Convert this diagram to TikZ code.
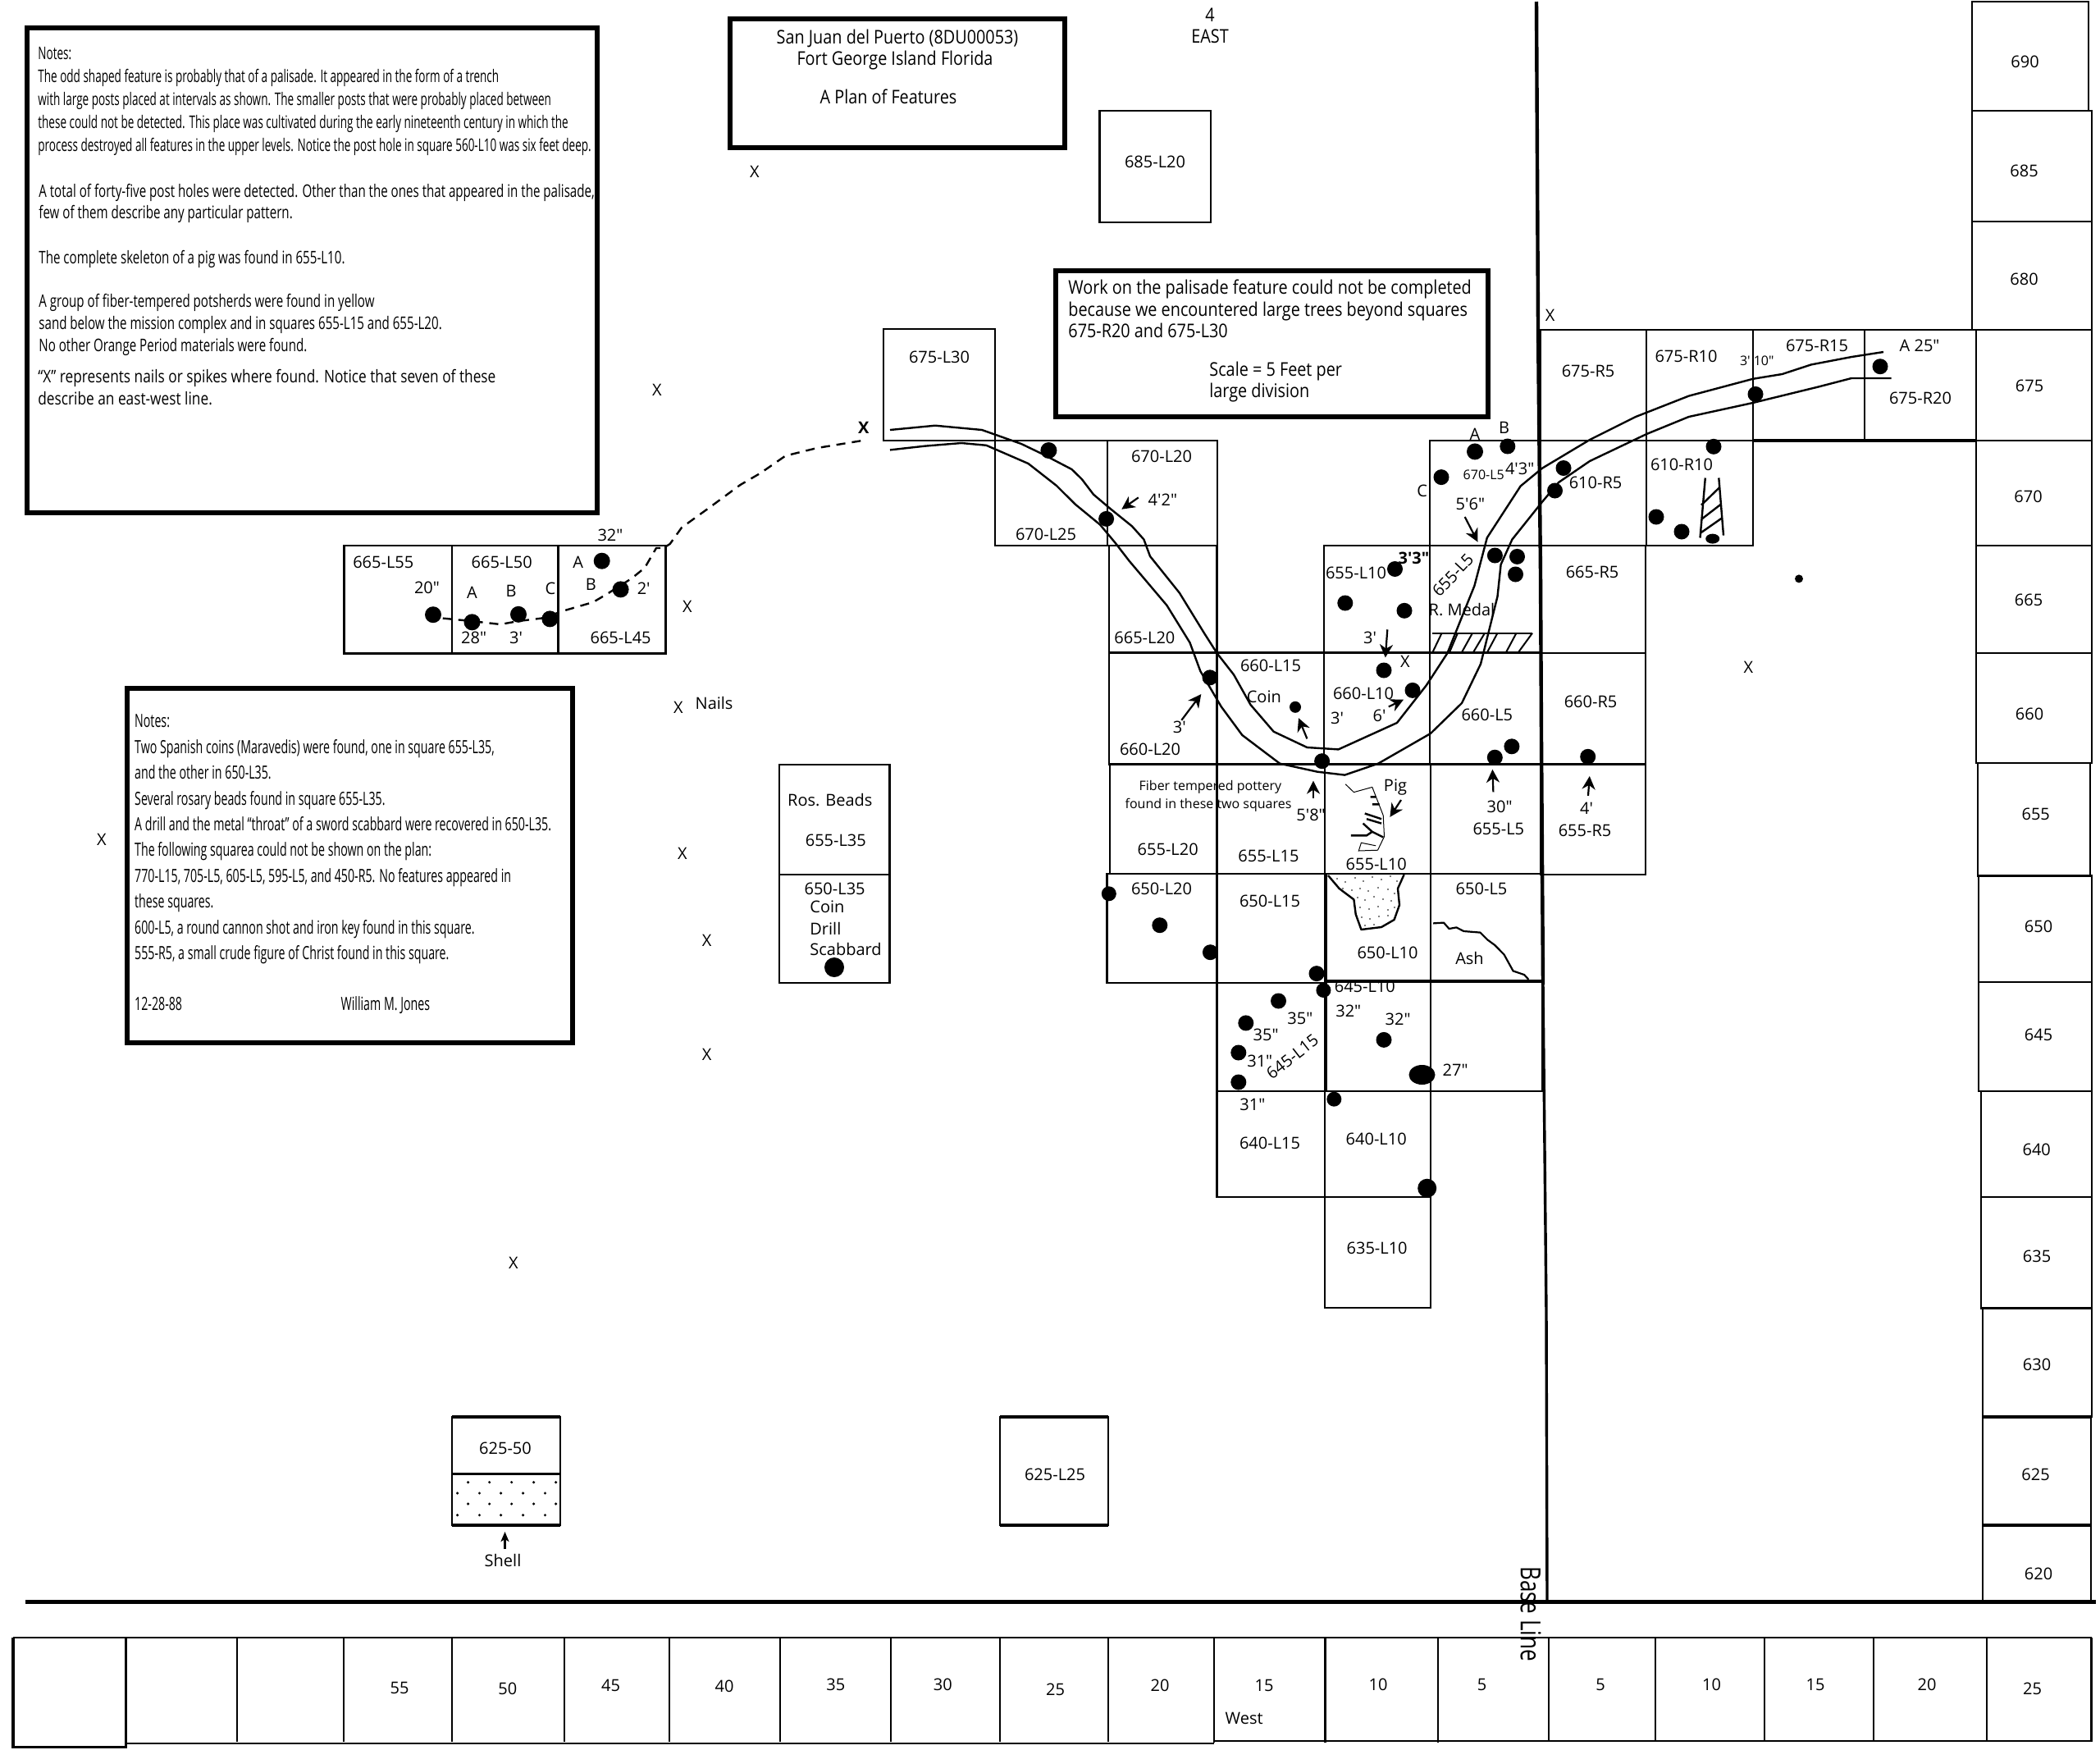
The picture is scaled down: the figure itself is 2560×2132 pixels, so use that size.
\documentclass[tikz,border=0pt]{standalone}
\usepackage{fontspec}
\setmainfont{Open Sans}
\newfontfamily\condA[FakeStretch=0.638]{Open Sans}
\newfontfamily\condE[FakeStretch=0.713]{Open Sans}
\newfontfamily\condD[FakeStretch=0.64]{Open Sans}
\newfontfamily\condB[FakeStretch=0.815]{Open Sans}
\newfontfamily\condC[FakeStretch=0.862]{Open Sans}
\usetikzlibrary{arrows.meta}
\newcount\nn
\tikzset{
  lab/.style={inner sep=0pt,anchor=center,yshift=-0.7pt,font=\fontsize{10}{12}\selectfont},
  small/.style={inner sep=0pt,anchor=center,font=\fontsize{8}{10}\selectfont},
  noteA/.style={inner sep=0pt,anchor=base west,font=\condA\fontsize{10.6}{12}\selectfont},
  noteE/.style={inner sep=0pt,anchor=base west,font=\condE\fontsize{10.6}{12}\selectfont},
  noteD/.style={inner sep=0pt,anchor=base west,font=\condD\fontsize{11.1}{13}\selectfont},
  noteB/.style={inner sep=0pt,anchor=base west,font=\condB\fontsize{10.6}{12}\selectfont},
  noteC/.style={inner sep=0pt,anchor=base west,font=\condC\fontsize{11.5}{13}\selectfont},
  titleC/.style={inner sep=0pt,anchor=base,font=\condC\fontsize{11.5}{13}\selectfont},
  grid/.style={draw=black,line width=1.15pt,line join=miter},
  heavy/.style={draw=black,line width=1.7pt},
  column/.style={draw=black,line width=1.4pt},
  frame/.style={draw=black,line width=3pt},
  trench/.style={draw=black,line width=1.2pt,line join=round},
  thin line/.style={draw=black,line width=0.5pt},
  arr/.style={draw=black,line width=1.1pt,-{Stealth[length=8pt,width=8pt,inset=2.5pt]}},
}
\newcommand{\mk}[3]{\global\advance\nn by 1 \node[lab] (t\the\nn) at (#1,#2) {#3};}
\newcommand{\sm}[3]{\global\advance\nn by 1 \node[small] (t\the\nn) at (#1,#2) {#3};}
\newcommand{\nA}[3]{\global\advance\nn by 1 \node[noteA] (t\the\nn) at (#1,#2) {#3};}
\newcommand{\nE}[3]{\global\advance\nn by 1 \node[noteE] (t\the\nn) at (#1,#2) {#3};}
\newcommand{\nD}[3]{\global\advance\nn by 1 \node[noteD] (t\the\nn) at (#1,#2) {#3};}
\newcommand{\nB}[3]{\global\advance\nn by 1 \node[noteB] (t\the\nn) at (#1,#2) {#3};}
\newcommand{\nC}[3]{\global\advance\nn by 1 \node[noteC] (t\the\nn) at (#1,#2) {#3};}
\newcommand{\tC}[3]{\global\advance\nn by 1 \node[titleC] (t\the\nn) at (#1,#2) {#3};}
\newcommand{\sq}[4]{\draw[grid] (#1,#2) rectangle (#3,#4);}
\newcommand{\hq}[4]{\draw[column] (#1,#2) rectangle (#3,#4);}
\begin{document}
\begin{tikzpicture}[x=0.5pt,y=-0.5pt]
\useasboundingbox (0,0) rectangle (2560,2132);
\fill[white] (0,0) rectangle (2560,2132);

% framed notes
\draw[frame] (33,34) rectangle (728,624.5);
\draw[frame] (154.5,838.5) rectangle (698,1271);
\draw[frame] (889.5,22.5) rectangle (1298,180);
\draw[frame] (1286.5,330) rectangle (1813.5,508);

% isolated squares
\hq{1340.5}{135}{1476}{271}
\sq{1077}{401}{1213}{537}
\sq{1213}{537}{1350}{665}
\sq{1350}{537}{1484}{665}
\sq{1352}{665}{1483.5}{795.5}
\sq{1352}{795.5}{1483.5}{931.5}
\sq{1483.5}{795.5}{1614}{931.5}
\sq{1614}{665}{1743}{795.5}
\sq{1614}{795.5}{1743}{931.5}
\sq{1743}{537}{1878}{665}
\sq{1743}{665}{1878}{795.5}
\sq{1743}{795.5}{1878}{931.5}
\sq{1878}{402}{2007}{537}
\sq{2007}{402}{2137}{537}
\sq{2137}{402}{2273}{537}
\sq{2273}{402}{2409}{537}
\sq{1878}{537}{2007}{665}
\sq{2007}{537}{2137}{665}
\sq{1878}{665}{2006}{796}
\sq{1878}{796}{2006}{931.5}
\sq{1878}{931.5}{2006}{1066}
\draw[heavy] (1352,795.5) -- (1878,795.5) (1352,931.5) -- (2006,931.5) (2137,537) -- (2409,537);
% rows below
\sq{1353}{931.5}{1483.5}{1065}
\sq{1483.5}{931.5}{1615}{1065}
\sq{1615}{931.5}{1744}{1065}
\sq{1744}{931.5}{1880}{1065}
\sq{1349.5}{1065}{1483.5}{1198}
\sq{1483.5}{1065}{1616}{1198}
\sq{1616}{1065}{1744}{1196}
\sq{1744}{1065}{1880}{1196}
\sq{1483.5}{1198}{1616}{1330}
\sq{1616}{1196}{1744}{1330}
\sq{1744}{1196}{1880}{1330}
\sq{1483.5}{1330}{1615}{1459}
\sq{1615}{1330}{1744}{1459}
\sq{1615}{1459}{1744}{1594}
\draw[heavy] (1616,1065) -- (1616,1330) (1616,1196) -- (1880,1196);
% western squares
\sq{419.5}{665}{551}{796.5}
\sq{551}{665}{680.5}{796.5}
\sq{680.5}{665}{811.5}{796.5}
\sq{950}{932}{1084.5}{1066}
\sq{950}{1066}{1084.5}{1198}
\draw[grid] (551,1727) rectangle (683,1796.5);
\draw[heavy] (551,1727) -- (683,1727) (551,1796.5) -- (683,1796.5) (551,1859) -- (683,1859);
\draw[grid] (551,1796.5) rectangle (683,1859);
\draw[grid] (1219,1727) rectangle (1351,1859);
\draw[heavy] (1219,1727) -- (1351,1727) (1219,1859) -- (1351,1859);
% shell stipple
\foreach \x in {570.6,596.7,623.7,650.6,677.6} \foreach \y in {1806.7,1833} \fill (\x,\y) circle[radius=1.7];
\foreach \x in {557.6,584.5,610.6,637.6,664.5} \foreach \y in {1820,1846.7} \fill (\x,\y) circle[radius=1.7];

% right hand column
\sq{2404}{2}{2546}{135}
\sq{2404}{135}{2550}{270}
\sq{2404}{270}{2550}{402}
\sq{2409}{402}{2550}{537}
\sq{2409}{537}{2550}{665}
\sq{2409}{665}{2550}{796}
\hq{2409}{796}{2550}{930}
\hq{2411}{930}{2548}{1067.5}
\hq{2412}{1067.5}{2550}{1197}
\hq{2412}{1197}{2550}{1330}
\hq{2415}{1330}{2550}{1459}
\hq{2415}{1459}{2550}{1594.5}
\hq{2417}{1594.5}{2550}{1727}
\sq{2417}{1727}{2549}{1859}
\sq{2417}{1859}{2549}{1952}
\draw[heavy] (2417,1727) -- (2549,1727) (2417,1859) -- (2549,1859);

% base lines
\draw[draw=black,line width=2.3pt] (31,1952.7) -- (2555,1952.7);
\draw[draw=black,line width=2.2pt] (1873,2) -- (1875,400) -- (1878,700) -- (1879,900) -- (1881,1200);
\draw[draw=black,line width=1.7pt] (1881,1200) -- (1885,1600) -- (1886,1952);

% bottom ruler
\draw[column] (16,1996) -- (2549.5,1996);
\draw[column] (153.5,2125) -- (1480,2125);
\draw[column] (1480,2122) -- (2549.5,2122);
\draw[draw=black,line width=1.7pt] (16,1996) -- (16,2129.5) -- (153.5,2129.5) -- (153.5,1996);
\foreach \x in {289,418.8,551,688,816.3,951,1085.7,1218.8,1351,1888,2018,2151,2284,2422,2549.4}
  \draw[grid] (\x,1996) -- (\x,2123);
\foreach \x in {1480,1615.5,1752.7}
  \draw[grid] (\x,1996) -- (\x,2124);

% trench walls
\draw[trench] (1085,524) -- (1140,518.7) -- (1197,524) -- (1245,541) -- (1270,553) -- (1306.5,572) -- (1318.8,584) -- (1333,602.7) -- (1353.5,620) -- (1380,641.4) -- (1394.4,657.5) -- (1402,678) -- (1437.8,722.6) -- (1468.4,772.4) -- (1483.7,796.3) -- (1504,822.3) -- (1524.5,859) -- (1552.6,891.7) -- (1593.4,911) -- (1631.6,913.4) -- (1703,881) -- (1738.8,835.3) -- (1764.3,796.3) -- (1797.4,714) -- (1812.8,655.4) -- (1853.6,592.5) -- (1880,570.7) -- (1938,536) -- (1994,508) -- (2058.7,482.6) -- (2136.8,461.8) -- (2172.5,456) -- (2208,444.4) -- (2257.3,435) -- (2296,429);
\draw[trench] (1085,548.4) -- (1127,543.7) -- (1172,540) -- (1202.4,542.8) -- (1253.5,565) -- (1288,592) -- (1310.6,614.5) -- (1341,639.5) -- (1359.6,661.7) -- (1376.5,683.6) -- (1422.4,737.8) -- (1450.5,783.3) -- (1463.3,818) -- (1488.8,861.4) -- (1514.3,896) -- (1560.2,930.7) -- (1606,940.7) -- (1639.3,944.6) -- (1680,930.7) -- (1743.9,894) -- (1782,857) -- (1805,809.3) -- (1825.5,727) -- (1829.6,688) -- (1843.4,657.5) -- (1880,611.7) -- (1900,588) -- (1938,562) -- (2007.3,529) -- (2058.7,508) -- (2136.8,491) -- (2217,471.4) -- (2257,461) -- (2305.5,461);

% dashed extension of the palisade
\draw[draw=black,line width=1.2pt,dash pattern=on 5.5pt off 4pt,line join=round]
 (539.8,753.6) -- (575,757) -- (610,761) -- (632,757) -- (660,753.6) -- (690,743.6) -- (723,734) -- (740,724) -- (770,705) -- (786,692) -- (800,668) -- (808.6,668) -- (816.7,663) -- (831,643) -- (865.7,618) -- (902.4,591) -- (927,576.7) -- (957.6,555.5) -- (996.3,546) -- (1053.5,536.6);

% hatching
\draw[draw=black,line width=1pt] (1746.4,771.6) -- (1868,771.6) (1746.4,795) -- (1868,795);
\foreach \a/\b in {1757.6/1746.4,1777/1767,1795/1782,1810/1796,1825.5/1813,1848.5/1836,1868/1851}
  \draw[draw=black,line width=1pt] (\a,771.6) -- (\b,795);
\draw[draw=black,line width=1.2pt] (2078.8,582.5) -- (2072.5,655.5) (2095.3,582.5) -- (2101,652.6) (2074,615.6) -- (2096.6,593.7) (2074,633) -- (2098,614.5) (2072.5,650) -- (2099.7,631);

% ash line
\draw[draw=black,line width=1.1pt,line join=round] (1747,1125.4) -- (1760,1124.6) -- (1766.5,1132) -- (1775.4,1130.4) -- (1784.4,1135) -- (1804.5,1136.6) -- (1813.4,1145.5) -- (1822.3,1152) -- (1833.5,1163.4) -- (1844.6,1183.5) -- (1858,1188) -- (1863.4,1193.8);

% stippled pit
\draw[draw=black,line width=1.2pt,line join=round] (1619,1067) -- (1632.6,1083) -- (1650.4,1096.4) -- (1652.7,1114.3) -- (1659.4,1133) -- (1684,1130) -- (1699.6,1121) -- (1706,1103) -- (1704,1083) -- (1711.6,1066);
\foreach \x/\y in {1630/1071,1640/1075,1652/1070,1662/1074,1673/1069,1684/1072,1695/1068,1703/1074,
  1637/1083,1648/1085,1658/1083,1668/1086,1680/1082,1692/1084,1700/1089,
  1655/1094,1664/1097,1675/1093,1686/1096,1696/1098,
  1658/1106,1669/1108,1680/1105,1692/1109,1700/1106,
  1660/1118,1670/1120,1681/1117,1692/1116,1664/1128,1675/1127}
  \fill (\x,\y) circle[radius=0.9];

% pig skeleton
\draw[thin line] (1640.2,955.8) -- (1650.4,965.6) -- (1672.8,959.4) -- (1686.2,993.8) -- (1687.5,1019.6) -- (1679.5,1036.2) -- (1656.3,1037) -- (1659.4,1027.2) -- (1677.2,1030.8);
\draw[draw=black,line width=1.2pt] (1646.9,1018.3) -- (1666,1018.3) -- (1672.8,1013.8) -- (1686.2,1020.5)
  (1661.6,1003.6) -- (1672.8,1013.8) (1666,998.2) -- (1684,1003.6) (1663.8,991.5) -- (1684,998.2) (1670.5,971.4) -- (1677.2,971.4) (1672.8,980.4) -- (1681.7,980.4);

% post holes
\foreach \x/\y/\r in {
 1278.4/549/10, 1348.6/632.4/9.5, 1798/550.4/10, 1837.8/544/9.5, 1757/581.6/9.5, 1906/570.5/9.5, 1895.5/598/9.5,
 1822.4/677/9.5, 1849.5/678.4/9.5, 1847.5/700/9.5, 1700.5/693.5/9.5, 1639.8/735/9.5, 1712/744.3/9.5, 1687/817/9.5,
 1722/841.4/9.5, 1475/825.8/9.5, 1579/861.8/7, 1611.6/927.7/9.5, 1822.3/923.2/9.5, 1842.9/909.8/9.5, 1935.7/922.3/9.5,
 2140/480.4/9.5, 2292/446.7/9.5, 2089/544.3/9.5, 2019/630/9.5, 2050/648/9.5, 2193/705.4/5,
 1351.8/1089.3/9, 1413.8/1127.7/9.5, 1475.4/1160.7/9.5, 1605/1186.6/9.5, 1613.4/1207/9, 1558.5/1220/9.5, 1518.8/1246.9/9.5,
 1509.8/1283/9.5, 1509.8/1319/9.5, 1687/1267.4/9.5, 1626.3/1339.7/9, 1739.7/1448.2/11.5, 1017/1179/12,
 528/749.2/10, 575.5/758.3/10, 632/748.8/10, 670.4/754.4/10, 733.7/683.7/10, 756.6/718.4/10}
  \fill (\x,\y) circle[radius=\r];
\fill (1733.5,1310) ellipse[x radius=16,y radius=12];
\fill (2087.7,656.6) ellipse[x radius=8.5,y radius=6];

% arrows
\draw[arr] (1387.8,606.4) -- (1367.3,620.7);
\draw[arr] (1785.7,630) -- (1801.5,660.6);
\draw[arr] (1691.3,767.3) -- (1688.8,801.5);
\draw[arr] (1593.4,900.4) -- (1583,875.2);
\draw[arr] (1692.8,861.4) -- (1711,852.7);
\draw[arr] (1440.3,877.8) -- (1464.3,846);
\draw[arr] (1601,972.8) -- (1601,951.6);
\draw[arr] (1708,975) -- (1694.4,995.8);
\draw[arr] (1820.4,965.4) -- (1819.4,937.8);
\draw[arr] (1936,969.8) -- (1937.8,946);
\draw[draw=black,line width=1.1pt,-{Stealth[length=6pt,width=5pt,inset=1.5pt]}] (615.5,1888) -- (615.5,1867);

% notes text
\nA{46}{72}{Notes:}
\nA{46}{100}{The odd shaped feature is probably that of a palisade. It appeared in the form of a trench}
\nA{46}{128}{with large posts placed at intervals as shown. The smaller posts that were probably placed between}
\nA{46}{156.5}{these could not be detected. This place was cultivated during the early nineteenth century in which the}
\nA{46}{184}{process destroyed all features in the upper levels. Notice the post hole in square 560-L10 was six feet deep.}
\nE{47}{240}{A total of forty-five post holes were detected. Other than the ones that appeared in the palisade,}
\nE{47}{266}{few of them describe any particular pattern.}
\nE{47}{321}{The complete skeleton of a pig was found in 655-L10.}
\nE{47}{374.5}{A group of fiber-tempered potsherds were found in yellow}
\nE{47}{401}{sand below the mission complex and in squares 655-L15 and 655-L20.}
\nE{47}{428}{No other Orange Period materials were found.}
\nB{46}{466}{“X” represents nails or spikes where found. Notice that seven of these}
\nB{46}{493}{describe an east-west line.}

\nD{163.8}{886.7}{Notes:}
\nD{163.8}{918}{Two Spanish coins (Maravedis) were found, one in square 655-L35,}
\nD{163.8}{949.6}{and the other in 650-L35.}
\nD{163.8}{981}{Several rosary beads found in square 655-L35.}
\nD{163.8}{1012}{A drill and the metal “throat” of a sword scabbard were recovered in 650-L35.}
\nD{163.8}{1043.7}{The following squarea could not be shown on the plan:}
\nD{163.8}{1075}{770-L15, 705-L5, 605-L5, 595-L5, and 450-R5. No features appeared in}
\nD{163.8}{1106.6}{these squares.}
\nD{163.8}{1138}{600-L5, a round cannon shot and iron key found in this square.}
\nD{163.8}{1169}{555-R5, a small crude figure of Christ found in this square.}
\nD{163.8}{1231.4}{12-28-88}
\nD{415.3}{1231.4}{William M. Jones}

\tC{1094}{53}{San Juan del Puerto (8DU00053)}
\tC{1091}{79}{Fort George Island Florida}
\tC{1083}{126}{A Plan of Features}
\tC{1475}{26}{4}
\tC{1475}{52.5}{EAST}

\nC{1302}{358}{Work on the palisade feature could not be completed}
\nC{1302}{385}{because we encountered large trees beyond squares}
\nC{1302}{411}{675-R20 and 675-L30}
\nC{1474}{458}{Scale = 5 Feet per}
\nC{1474}{484.6}{large division}

% labels of squares
\mk{1408}{196}{685-L20}
\mk{1145}{434}{675-L30}
\mk{1275}{650}{670-L25}
\mk{1416}{555}{670-L20}
\mk{1395.4}{776}{665-L20}
\mk{1402}{911.6}{660-L20}
\mk{1549}{810}{660-L15}
\mk{1653}{696.5}{655-L10}
\mk{1662}{844}{660-L10}
\sm{1808.7}{578.6}{670-L5}
\node[lab,rotate=47] (r1) at (1771,699.6) {655-L5};
\mk{1812.8}{870}{660-L5}
\mk{1945}{587}{610-R5}
\mk{1941}{695.7}{665-R5}
\mk{1939}{854}{660-R5}
\mk{1932}{1011}{655-R5}
\mk{1936}{451}{675-R5}
\mk{2055.5}{432.6}{675-R10}
\mk{2215}{420}{675-R15}
\mk{2341}{484}{675-R20}
\mk{2340}{420}{A 25″}
\sm{2141.7}{440}{3′ 10″}
\mk{2050}{564.5}{610-R10}
\mk{1423.7}{1033.5}{655-L20}
\mk{1546.4}{1041.5}{655-L15}
\mk{1677.7}{1052}{655-L10}
\mk{1826.8}{1008.5}{655-L5}
\sm{1475.4}{959}{Fiber tempered pottery}
\sm{1473}{981.7}{found in these two squares}
\mk{1598}{992.4}{5′8″}
\mk{1701}{958.5}{Pig}
\mk{1828}{981.7}{30″}
\mk{1934}{983.5}{4′}
\mk{1416}{1082}{650-L20}
\mk{1548}{1097}{650-L15}
\mk{1691.5}{1160}{650-L10}
\mk{1806}{1082}{650-L5}
\mk{1791.5}{1167}{Ash}
\mk{1548}{1392}{640-L15}
\mk{1677.7}{1386.6}{640-L10}
\mk{1678.6}{1519.6}{635-L10}
\mk{1663.8}{1201}{645-L10}
\node[lab,rotate=38] (r2) at (1575.4,1286.6) {645-L15};
\mk{1584.8}{1240}{35″}
\mk{1543}{1260}{35″}
\mk{1535.7}{1292}{31″}
\mk{1526.8}{1344.6}{31″}
\mk{1643.7}{1231}{32″}
\mk{1704}{1240.6}{32″}
\mk{1774}{1302.7}{27″}
\mk{1417.3}{607.7}{4′2″}
\mk{1852.6}{569.5}{4′3″}
\mk{1792.3}{612.9}{5′6″}
\node[lab,font=\bfseries\fontsize{10}{12}\selectfont] (b1) at (1723.5,679) {3′3″};
\mk{1782}{742}{R. Medal}
\mk{1670}{776}{3′}
\mk{1540.8}{848.3}{Coin}
\mk{1630}{874.4}{3′}
\mk{1681.6}{871.3}{6′}
\mk{1437.8}{885}{3′}
\mk{1733.7}{596.8}{C}
\mk{1798}{528.3}{A}
\mk{1833.7}{519.6}{B}
\mk{1712.8}{805}{X}
\mk{467.3}{683.7}{665-L55}
\mk{611.7}{683.7}{665-L50}
\mk{756.6}{776}{665-L45}
\mk{743.9}{651}{32″}
\mk{520.4}{715.4}{20″}
\mk{575.5}{720.6}{A}
\mk{623}{719}{B}
\mk{671}{716}{C}
\mk{704.6}{684}{A}
\mk{720.4}{711}{B}
\mk{784.7}{715.4}{2′}
\mk{577.6}{776}{28″}
\mk{629}{776}{3′}
\mk{1011.8}{974}{Ros. Beads}
\mk{1018.8}{1022.7}{655-L35}
\mk{1017.6}{1082}{650-L35}
\node[lab,anchor=west] (c1) at (987,1104) {Coin};
\node[lab,anchor=west] (c2) at (987,1130) {Drill};
\node[lab,anchor=west] (c3) at (987,1156) {Scabbard};
\mk{616}{1764}{625-50}
\mk{613}{1900.7}{Shell}
\mk{1286}{1796}{625-L25}
% scattered nails
\mk{920}{208}{X}
\mk{801}{474}{X}
\mk{837.8}{738}{X}
\mk{827}{860.7}{X}
\mk{870.6}{856}{Nails}
\mk{124}{1022.4}{X}
\mk{832}{1038.5}{X}
\mk{861.7}{1144.7}{X}
\mk{861.7}{1284.4}{X}
\mk{626}{1538}{X}
\mk{1889.5}{382.7}{X}
\mk{2131.4}{812}{X}
\node[lab,font=\bfseries\fontsize{10}{12}\selectfont] (b2) at (1052.7,520) {X};
% east column
\mk{2468.5}{74}{690}
\mk{2467.6}{207}{685}
\mk{2467.6}{339}{680}
\mk{2474}{468.6}{675}
\mk{2472.5}{604}{670}
\mk{2473}{730}{665}
\mk{2474}{869}{660}
\mk{2481.7}{990.6}{655}
\mk{2485}{1128}{650}
\mk{2485}{1260}{645}
\mk{2482.7}{1400}{640}
\mk{2483}{1530}{635}
\mk{2483}{1662}{630}
\mk{2481.6}{1796}{625}
\mk{2485}{1917}{620}
% ruler
\mk{487}{2055.7}{55}
\mk{618.8}{2057}{50}
\mk{744.5}{2053.3}{45}
\mk{883}{2054}{40}
\mk{1018.8}{2052}{35}
\mk{1149.4}{2052}{30}
\mk{1286.5}{2058}{25}
\mk{1414}{2052.7}{20}
\mk{1541}{2053}{15}
\mk{1680}{2052}{10}
\mk{1806.5}{2052}{5}
\mk{1951}{2052}{5}
\mk{2086.5}{2052}{10}
\mk{2213}{2052}{15}
\mk{2349}{2052}{20}
\mk{2477.6}{2057}{25}
\mk{1516.7}{2093}{West}
\node[inner sep=0pt,rotate=-90,font=\fontsize{13}{15}\selectfont] (base) at (1866,1967) {\scalebox{1.0}[1.3]{Base Line}};
\end{tikzpicture}
\end{document}
